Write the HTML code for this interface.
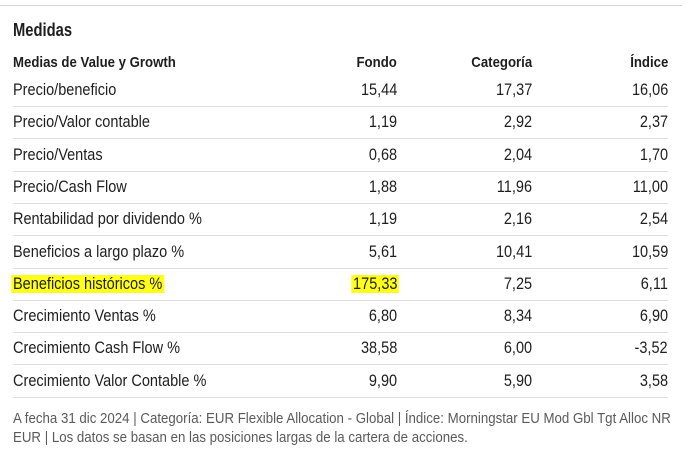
<!DOCTYPE html>
<html><head><meta charset="utf-8"><style>
html,body{margin:0;padding:0;background:#fff;}
body{width:690px;height:453px;position:relative;overflow:hidden;font-family:"Liberation Sans Narrow","Liberation Sans",sans-serif;color:#1e1e1e;}
.topline{position:absolute;left:0;top:5px;width:682px;height:1px;background:#d6d6d6;}
.title{position:absolute;left:13px;top:20px;font-size:18px;font-weight:bold;transform:scaleX(0.82);transform-origin:left center;}
.row{position:absolute;left:13px;width:655px;height:32px;}
.row>span{position:absolute;top:0;line-height:32px;font-size:16.5px;white-space:nowrap;transform:scaleX(0.88);}
.row .l{left:0;transform-origin:left center;}
.row .f{right:271px;transform-origin:right center;}
.row .c{right:136px;transform-origin:right center;}
.row .i{right:0;transform-origin:right center;}
.hdr>span{font-weight:bold;font-size:15px;}
.sep{border-bottom:1px solid #dedede;}
.hl{background:#ffff1a;padding:0 2px;margin:0 -2px;}
.foot{position:absolute;left:13px;top:410px;width:760px;font-size:14.5px;line-height:19px;color:#5a5a5a;white-space:nowrap;transform:scaleX(0.915);transform-origin:left top;}
</style></head><body>
<div class="topline"></div>
<div class="title">Medidas</div>
<div class="row hdr" style="top:47px">
<span class="l">Medias de Value y Growth</span>
<span class="f">Fondo</span>
<span class="c">Categoría</span>
<span class="i">Índice</span>
</div>
<div id="rows"></div>
<div class="foot">A fecha 31 dic 2024 | Categoría: EUR Flexible Allocation - Global | Índice: Morningstar EU Mod Gbl Tgt Alloc NR<br>EUR | Los datos se basan en las posiciones largas de la cartera de acciones.</div>
<script>
const labels=["Precio/beneficio","Precio/Valor contable","Precio/Ventas","Precio/Cash Flow","Rentabilidad por dividendo %","Beneficios a largo plazo %","Beneficios históricos %","Crecimiento Ventas %","Crecimiento Cash Flow %","Crecimiento Valor Contable %"];
const fondo=["15,44","1,19","0,68","1,88","1,19","5,61","175,33","6,80","38,58","9,90"];
const categoria=["17,37","2,92","2,04","11,96","2,16","10,41","7,25","8,34","6,00","5,90"];
const indice=["16,06","2,37","1,70","11,00","2,54","10,59","6,11","6,90","-3,52","3,58"];
const highlighted=6;
const wrap=document.getElementById('rows');
labels.forEach((lab,k)=>{
  const r=document.createElement('div');
  r.className='row sep';
  r.style.top=(74+k*32.3)+'px';
  
  
  const mk=(cls,txt,name)=>{
    const s=document.createElement('span');
    s.className=cls;
    
    
    if(k===highlighted&&(cls==='l'||cls==='f')){const h=document.createElement('span');h.className='hl';h.textContent=txt;s.appendChild(h);}
    else s.textContent=txt;
    r.appendChild(s);
  };
  mk('l',lab,'row-label');
  mk('f',fondo[k],'fondo-value');
  mk('c',categoria[k],'categoria-value');
  mk('i',indice[k],'indice-value');
  wrap.appendChild(r);
});
</script>
</body></html>
